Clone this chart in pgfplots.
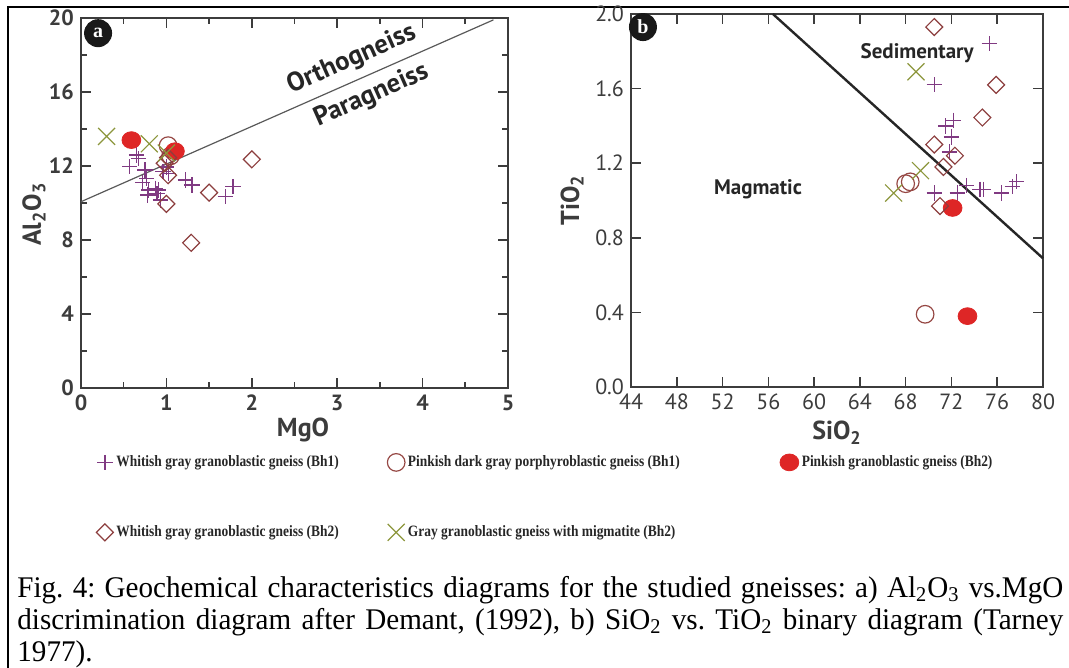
\documentclass[border=0pt]{standalone}
\usepackage{pgfplots}
\pgfplotsset{compat=1.18}
\usepackage{fontspec}
\setmainfont{Liberation Serif}
\newfontfamily\pts{PT Sans}
\newfontfamily\legfont[FakeStretch=0.85]{Liberation Serif}
\newfontfamily\capfont[FakeStretch=0.97]{Liberation Serif}
\definecolor{plusc}{RGB}{128,58,130}
\definecolor{diac}{RGB}{140,62,62}
\definecolor{circc}{RGB}{150,72,68}
\definecolor{redc}{RGB}{222,38,38}
\definecolor{xc}{RGB}{140,150,60}
\definecolor{axc}{RGB}{60,60,60}

\pgfplotsset{
  gneiss/.style={
    scale only axis, clip=false,
    axis line style={axc, line width=1pt},
    every tick/.style={axc, line width=0.8pt},
    major tick length=5pt, minor tick length=3pt,
    tick align=inside,
    /pgf/number format/assume math mode=true,
    legend image code/.code={\path[draw=none, fill=none] (0pt,-3pt) rectangle (8pt,3pt);
      \draw[##1] plot coordinates {(4pt,0pt)};},
  },
  s1/.style={only marks, mark=+, mark size=3.8pt, plusc, mark options={line width=0.6pt}},
  s2/.style={only marks, mark=o, mark size=4.4pt, circc, mark options={line width=0.6pt}},
  s3/.style={only marks, mark=*, mark size=4.2pt, redc, mark options={xscale=1.12, fill=redc, draw=redc}},
  s4/.style={only marks, mark=square, mark size=3pt, diac, mark options={rotate=45, line width=0.6pt}},
  s5/.style={only marks, mark=x, mark size=6pt, xc, mark options={line width=0.6pt}},
}

\begin{document}
\begin{tikzpicture}
\useasboundingbox (0pt,0pt) rectangle (534.5pt,-334pt);
\draw[line width=1.3pt] (4pt,-334pt) -- (4pt,-3.5pt) -- (536pt,-3.5pt);

% a) Al2O3 vs MgO
\begin{axis}[gneiss,
  at={(40.5pt,-194pt)}, anchor=south west,
  width=213.5pt, height=185pt,
  xmin=0, xmax=5, ymin=0, ymax=20,
  xtick={0,1,2,3,4,5}, ytick={0,4,8,12,16,20},
  minor x tick num=1, minor y tick num=1,
  ticklabel style={font=\pts\bfseries\fontsize{11}{12}\selectfont, text=axc},
  xlabel={MgO}, ylabel={Al\textsubscript{2}O\textsubscript{3}},
  label style={font=\pts\bfseries\fontsize{13}{14}\selectfont, text=axc},
  xlabel style={at={(axis description cs:0.52,0)}, anchor=north, inner sep=0pt, yshift=-15pt},
  ylabel style={at={(axis description cs:-0.11,0.47)}, anchor=center},
]
\addplot[gray!70!black, line width=0.6pt] coordinates {(0,10.07) (4.83,19.9)};
\addplot[s1] coordinates {
  (0.57,11.96) (0.67,12.40) (0.65,12.60) (0.75,11.78) (0.77,11.33)
  (0.72,11.10) (0.79,10.70) (0.78,10.43) (0.87,10.80) (0.89,10.50)
  (0.91,10.70) (0.93,10.16) (0.96,11.70) (1.02,11.60) (1.00,11.95)
  (1.22,11.24) (1.30,10.97) (1.69,10.34) (1.78,10.90)};
\addplot[s2] coordinates {(1.02,13.1) (1.05,12.55)};
\addplot[s3] coordinates {(0.59,13.4) (1.10,12.8)};
\addplot[s4] coordinates {
  (2.0,12.36) (1.5,10.56) (1.0,9.95) (1.29,7.85) (1.02,11.5) (0.98,12.15) (1.02,12.45)};
\addplot[s5] coordinates {(0.30,13.6) (0.80,13.2) (1.0,12.7)};
\node[font=\pts\bfseries\fontsize{13.3}{14}\selectfont, text=black!85, rotate=24]
  at (axis cs:3.17,17.75) {Orthogneiss};
\node[font=\pts\bfseries\fontsize{13.3}{14}\selectfont, text=black!85, rotate=24]
  at (axis cs:3.40,15.8) {Paragneiss};
\node[circle, fill=black!90, minimum size=14pt, inner sep=0pt, text=white,
  font=\bfseries\fontsize{10}{10}\selectfont] at (rel axis cs:0.040,0.959) {a};
\end{axis}

% b) TiO2 vs SiO2
\begin{axis}[gneiss,
  at={(315.5pt,-193.5pt)}, anchor=south west,
  width=206pt, height=186.5pt,
  xmin=44, xmax=80, ymin=0, ymax=2,
  xtick={44,48,...,80}, ytick={0,0.4,0.8,1.2,1.6,2.0},
  ticklabel style={font=\pts\fontsize{11}{12}\selectfont, text=axc},
  yticklabel style={/pgf/number format/.cd, fixed, fixed zerofill, precision=1},
  xlabel={SiO\textsubscript{2}}, ylabel={TiO\textsubscript{2}},
  label style={font=\pts\bfseries\fontsize{13}{14}\selectfont, text=axc},
  xlabel style={at={(axis description cs:0.50,0)}, anchor=north, inner sep=0pt, yshift=-17pt},
  ylabel style={at={(axis description cs:-0.143,0.50)}, anchor=center},
  legend columns=3, legend cell align=left,
  legend style={at={(axis description cs:-1.2985,-0.1743)}, anchor=north west,
    draw=none, fill=none, inner sep=0pt, column sep=0pt, row sep=25pt,
    font=\legfont\bfseries\fontsize{7.9}{9}\selectfont, text=black!85,
    nodes={inner sep=1.5pt}},
]
\addplot[black!85, line width=1.2pt, forget plot] coordinates {(56.4,2.0) (80,0.69)};
\addplot[s1] coordinates {
  (75.3,1.84) (70.5,1.62) (71.5,1.40) (72.2,1.43) (72.0,1.34) (71.8,1.26)
  (70.5,1.04) (72.5,1.04) (73.3,1.08) (74.8,1.06) (74.5,1.06) (76.4,1.04)
  (77.3,1.075) (77.7,1.10)};
\addlegendentry{\makebox[134pt][l]{Whitish gray granoblastic gneiss (Bh1)}}
\addplot[s2] coordinates {(68.0,1.09) (68.4,1.10) (69.7,0.39)};
\addlegendentry{\makebox[184.5pt][l]{Pinkish dark gray porphyroblastic gneiss (Bh1)}}
\addplot[s3] coordinates {(72.1,0.96) (73.4,0.38)};
\addlegendentry{Pinkish granoblastic gneiss (Bh2)}
\addplot[s4] coordinates {
  (70.5,1.93) (75.9,1.62) (74.7,1.445) (70.5,1.30) (72.3,1.24) (71.3,1.18) (71.0,0.97)};
\addlegendentry{Whitish gray granoblastic gneiss (Bh2)}
\addplot[s5] coordinates {(68.9,1.69) (69.3,1.16) (66.95,1.04)};
\addlegendentry{Gray granoblastic gneiss with migmatite (Bh2)}
\node[font=\pts\bfseries\fontsize{10.5}{12}\selectfont, text=black!85]
  at (axis cs:69.0,1.79) {Sedimentary};
\node[font=\pts\bfseries\fontsize{10.5}{12}\selectfont, text=black!85]
  at (axis cs:55.1,1.06) {Magmatic};
\node[circle, fill=black!90, minimum size=14pt, inner sep=0pt, text=white,
  font=\bfseries\fontsize{10}{10}\selectfont] at (rel axis cs:0.029,0.965) {b};
\end{axis}

\node[anchor=north west, inner sep=0pt, text width=523pt, align=justify,
  font=\capfont\fontsize{15}{16}\selectfont\frenchspacing] at (8.5pt,-288pt)
  {Fig. 4: Geochemical characteristics diagrams for the studied gneisses: a) Al\textsubscript{2}O\textsubscript{3} vs.MgO\linebreak
   discrimination diagram after Demant, (1992), b) SiO\textsubscript{2} vs. TiO\textsubscript{2} binary diagram (Tarney\linebreak
   1977).};
\end{tikzpicture}
\end{document}
